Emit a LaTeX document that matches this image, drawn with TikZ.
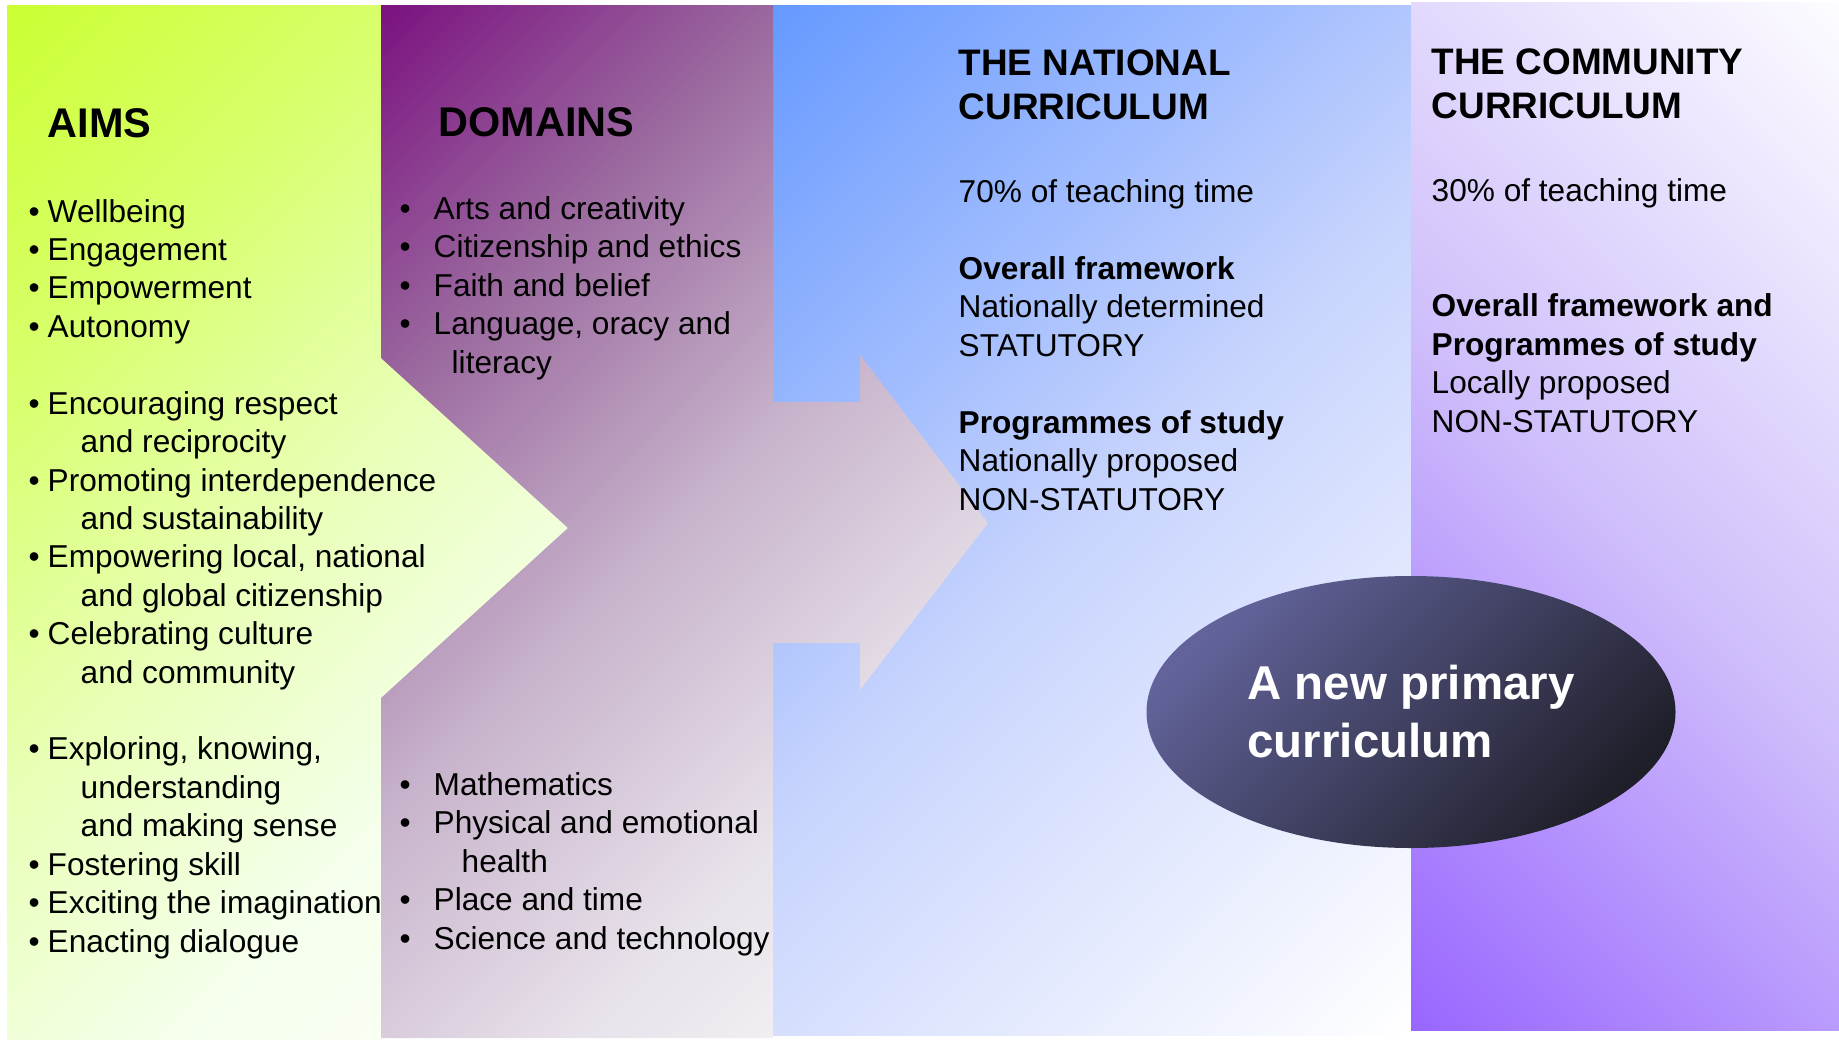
\documentclass[tikz,border=0pt]{standalone}
\usepackage{fontspec}
\setmainfont{Liberation Sans}
\usetikzlibrary{shapes.geometric}

\definecolor{aimA}{HTML}{CCFF33}
\definecolor{aimB}{HTML}{D8FF6E}
\definecolor{aimC}{HTML}{E8FFB6}
\definecolor{aimD}{HTML}{F5FFEC}
\definecolor{aimE}{HTML}{FCFFF8}
\definecolor{domA}{HTML}{7B1280}
\definecolor{domB}{HTML}{9C6CA0}
\definecolor{domC}{HTML}{C8B4CC}
\definecolor{domD}{HTML}{E8E2EA}
\definecolor{domE}{HTML}{FBFAFB}
\definecolor{natA}{HTML}{6699FF}
\definecolor{natB}{HTML}{C8D4FD}
\definecolor{natC}{HTML}{FFFFFF}
\definecolor{comA}{HTML}{FDFCFF}
\definecolor{comB}{HTML}{D0C0FB}
\definecolor{comC}{HTML}{9966FF}
\definecolor{newA}{HTML}{62639A}
\definecolor{newB}{HTML}{50507A}
\definecolor{newC}{HTML}{1F1F2A}

\pgfdeclareverticalshading{aimshade}{100bp}{color(0bp)=(aimE); color(14.6bp)=(aimE); color(32.3bp)=(aimD); color(50bp)=(aimC); color(67.7bp)=(aimB); color(85.4bp)=(aimA); color(100bp)=(aimA)}
\pgfdeclareverticalshading{domshade}{100bp}{color(0bp)=(domE); color(14.6bp)=(domE); color(32.3bp)=(domD); color(50bp)=(domC); color(67.7bp)=(domB); color(85.4bp)=(domA); color(100bp)=(domA)}
\pgfdeclareverticalshading{natshade}{100bp}{color(0bp)=(natC); color(14.6bp)=(natC); color(50bp)=(natB); color(85.4bp)=(natA); color(100bp)=(natA)}
\pgfdeclareverticalshading{comshade}{100bp}{color(0bp)=(comC); color(14.6bp)=(comC); color(50bp)=(comB); color(85.4bp)=(comA); color(100bp)=(comA)}

\newcommand{\aimitem}[1]{\makebox[0.19cm][l]{\textbullet}#1}
\newcommand{\aimcont}[1]{\hspace*{0.52cm}#1}
\newcommand{\domitem}[1]{\makebox[0.34cm][l]{\textbullet}#1}

\begin{document}
\begin{tikzpicture}
[nodes={inner sep=0pt, anchor=base west, align=left, font=\fontsize{9pt}{10.93pt}\selectfont},
 bighead/.style={font=\fontsize{11.8pt}{14pt}\selectfont\bfseries},
 colhead/.style={font=\fontsize{10.5pt}{12.5pt}\selectfont\bfseries}]
\useasboundingbox (0,0) rectangle (18.39,-10.42);
\fill[white] (0,0) rectangle (18.39,-10.42);

\shade[shading=aimshade, shading angle=45] (0.07,-0.05) -- (3.81,-0.05) -- (3.81,-3.58) -- (5.68,-5.28) -- (3.81,-6.98) -- (3.81,-10.40) -- (0.07,-10.40) -- cycle;
\shade[shading=natshade, shading angle=45] (7.73,-0.05) rectangle (14.11,-10.35);
\shade[shading=comshade, shading angle=-45] (14.11,-0.02) rectangle (18.39,-10.30);
\shade[shading=domshade, shading angle=45] (3.81,-0.05) -- (7.73,-0.05) -- (7.73,-4.02) -- (8.60,-4.02) -- (8.60,-3.55) -- (9.88,-5.23) -- (8.60,-6.90) -- (8.60,-6.43) -- (7.73,-6.43) -- (7.73,-10.38) -- (3.81,-10.38) -- (3.81,-6.98) -- (5.68,-5.28) -- (3.81,-3.58) -- cycle;

\node (Primary) at (14.11,-7.12) [ellipse, anchor=center, minimum width=5.29cm, minimum height=2.72cm, top color=newA, middle color=newB, bottom color=newC, shading angle=45, text=white, font=\fontsize{13.5pt}{16.5pt}\selectfont\bfseries] {A new primary\\curriculum};

% base anchors sit on the last line of each block
\node (Aims) at (0.47,-1.37) [bighead] {AIMS};
\node (Domains) at (4.38,-1.36) [bighead] {DOMAINS};
\node (AimList) at (0.28,-9.52) {\aimitem{Wellbeing}\\ \aimitem{Engagement}\\ \aimitem{Empowerment}\\ \aimitem{Autonomy}\\[10.93pt]
 \aimitem{Encouraging respect}\\ \aimcont{and reciprocity}\\ \aimitem{Promoting interdependence}\\ \aimcont{and sustainability}\\
 \aimitem{Empowering local, national}\\ \aimcont{and global citizenship}\\ \aimitem{Celebrating culture}\\ \aimcont{and community}\\[10.93pt]
 \aimitem{Exploring, knowing,}\\ \aimcont{understanding}\\ \aimcont{and making sense}\\ \aimitem{Fostering skill}\\ \aimitem{Exciting the imagination}\\ \aimitem{Enacting dialogue}};
\node (DomTop) at (3.99,-3.73) {\domitem{Arts and creativity}\\ \domitem{Citizenship and ethics}\\ \domitem{Faith and belief}\\ \domitem{Language, oracy and}\\ \hspace*{0.52cm}literacy};
\node (DomBottom) at (3.99,-9.49) {\domitem{Mathematics}\\ \domitem{Physical and emotional}\\ \hspace*{0.62cm}health\\ \domitem{Place and time}\\ \domitem{Science and technology}};

\node (National) at (9.58,-1.19) [colhead] {THE NATIONAL\\CURRICULUM};
\node (NatText) at (9.58,-5.10) {70\% of teaching time\\[10.93pt] \textbf{Overall framework}\\ Nationally determined\\ STATUTORY\\[10.93pt] \textbf{Programmes of study}\\ Nationally proposed\\ NON-STATUTORY};
\node (Community) at (14.31,-1.18) [colhead] {THE COMMUNITY\\CURRICULUM};
\node (ComText) at (14.31,-4.32) {30\% of teaching time\\[21.86pt] \textbf{Overall framework and}\\ \textbf{Programmes of study}\\ Locally proposed\\ NON-STATUTORY};
\end{tikzpicture}
\end{document}
